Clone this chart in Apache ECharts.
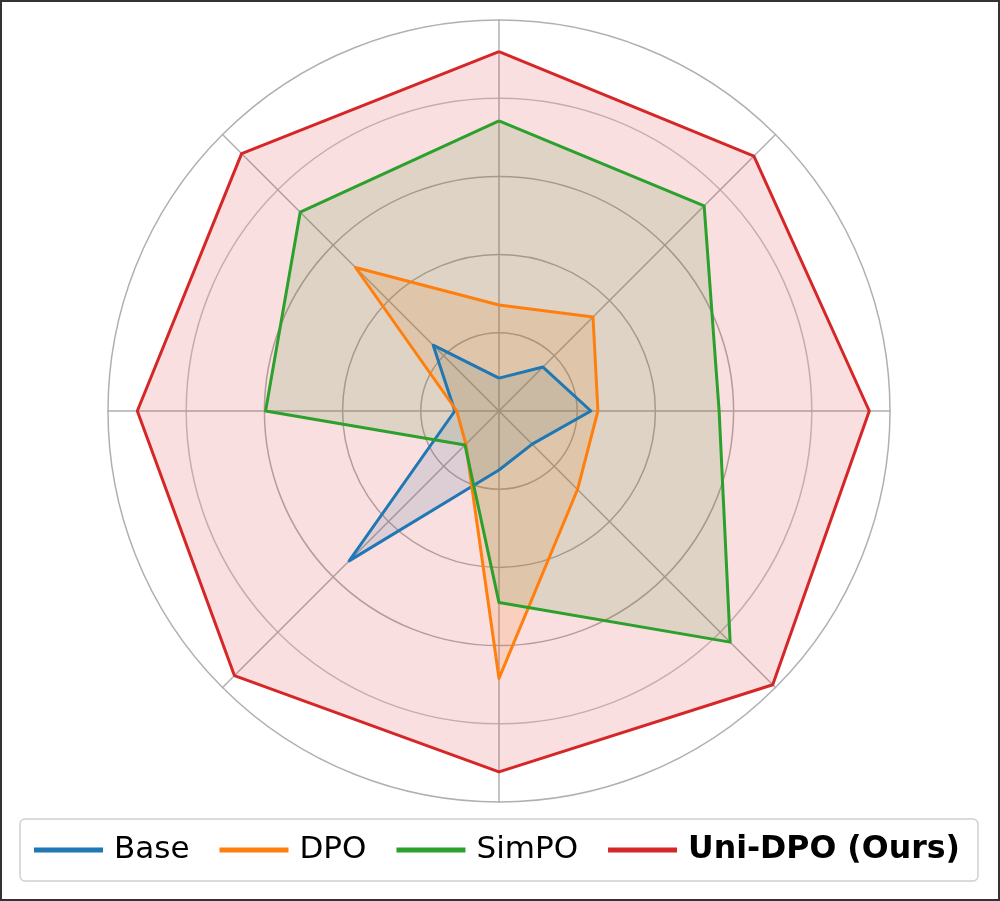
<!DOCTYPE html>
<html>
<head>
    <meta charset="utf-8"/>
    <title>Radar</title>
    <script src="https://cdn.jsdelivr.net/npm/echarts@6/dist/echarts.min.js"></script>
    <style type="text/css">
        html, body { margin: 0; padding: 0; background: #fff; }
        #main { width: 1000px; height: 901px; }
    </style>
</head>
<body>
<div id="main"></div>
<script type="text/javascript">
    // axes listed counter-clockwise from the top (ECharts radar order)
    var axisNames = ['d1', 'd2', 'd3', 'd4', 'd5', 'd6', 'd7', 'd8'];
    var seriesNames = ['Base', 'DPO', 'SimPO', 'Uni-DPO (Ours)'];
    var baseVals  = [8.4, 23.8, 11.3, 54.2, 15.1, 12.0, 23.5, 15.9];
    var dpoVals   = [27.1, 51.9, 10.8, 12.0, 68.4, 28.4, 25.3, 34.0];
    var simpoVals = [74.2, 71.9, 59.7, 12.3, 49.0, 83.6, 56.3, 74.2];
    var uniVals   = [91.9, 93.1, 92.5, 95.7, 92.3, 99.0, 94.7, 92.2];
    var colors = ['#1f77b4', '#ff7f0e', '#2ca02c', '#d62728'];

    var allVals = [baseVals, dpoVals, simpoVals, uniVals];

    var myChart = echarts.init(document.getElementById('main'));

    // fills first, outlines on top of every fill
    var fills = seriesNames.map(function (name, i) {
        return {
            name: name,
            type: 'radar',
            z: 2,
            symbol: 'none',
            lineStyle: { width: 0, color: colors[i] },
            areaStyle: { color: colors[i], opacity: 0.15 },
            data: [{ value: allVals[i], name: name }]
        };
    });
    var lines = seriesNames.map(function (name, i) {
        return {
            name: name,
            type: 'radar',
            z: 3,
            symbol: 'none',
            lineStyle: { width: 3, color: colors[i] },
            data: [{ value: allVals[i], name: name }]
        };
    });

    var option = {
        animation: false,
        color: colors,
        graphic: [{
            type: 'rect',
            shape: { x: 1, y: 1, width: 998, height: 899 },
            style: { fill: 'none', stroke: '#333', lineWidth: 2 },
            silent: true
        }],
        legend: {
            data: seriesNames,
            left: 20,
            top: 819,
            padding: [15, 18, 15, 14],
            backgroundColor: '#fff',
            borderColor: '#d0d0d0',
            borderWidth: 1.5,
            borderRadius: 5,
            icon: 'rect',
            itemWidth: 69,
            itemHeight: 5,
            itemGap: 30,
            textStyle: {
                fontFamily: 'DejaVu Sans',
                fontSize: 31,
                color: '#000',
                padding: [0, 0, 0, 6],
                rich: {
                    b: { fontFamily: 'DejaVu Sans', fontSize: 31.6, fontWeight: 'bold', color: '#000' }
                }
            },
            formatter: function (name) {
                return name === 'Uni-DPO (Ours)' ? '{b|' + name + '}' : name;
            }
        },
        radar: {
            center: [499, 411],
            radius: 391,
            startAngle: 90,
            shape: 'circle',
            splitNumber: 5,
            indicator: axisNames.map(function (n) { return { name: n, min: 0, max: 100 }; }),
            axisName: { show: false },
            axisLine: { lineStyle: { color: '#b0b0b0', width: 1.5 } },
            splitLine: {
                lineStyle: {
                    color: ['#b0b0b0', '#b0b0b0', '#b0b0b0', '#b0b0b0', '#c4c4c4'],
                    width: 1.5
                }
            },
            splitArea: { show: false }
        },
        series: fills.concat(lines)
    };
    myChart.setOption(option);
</script>
</body>
</html>
